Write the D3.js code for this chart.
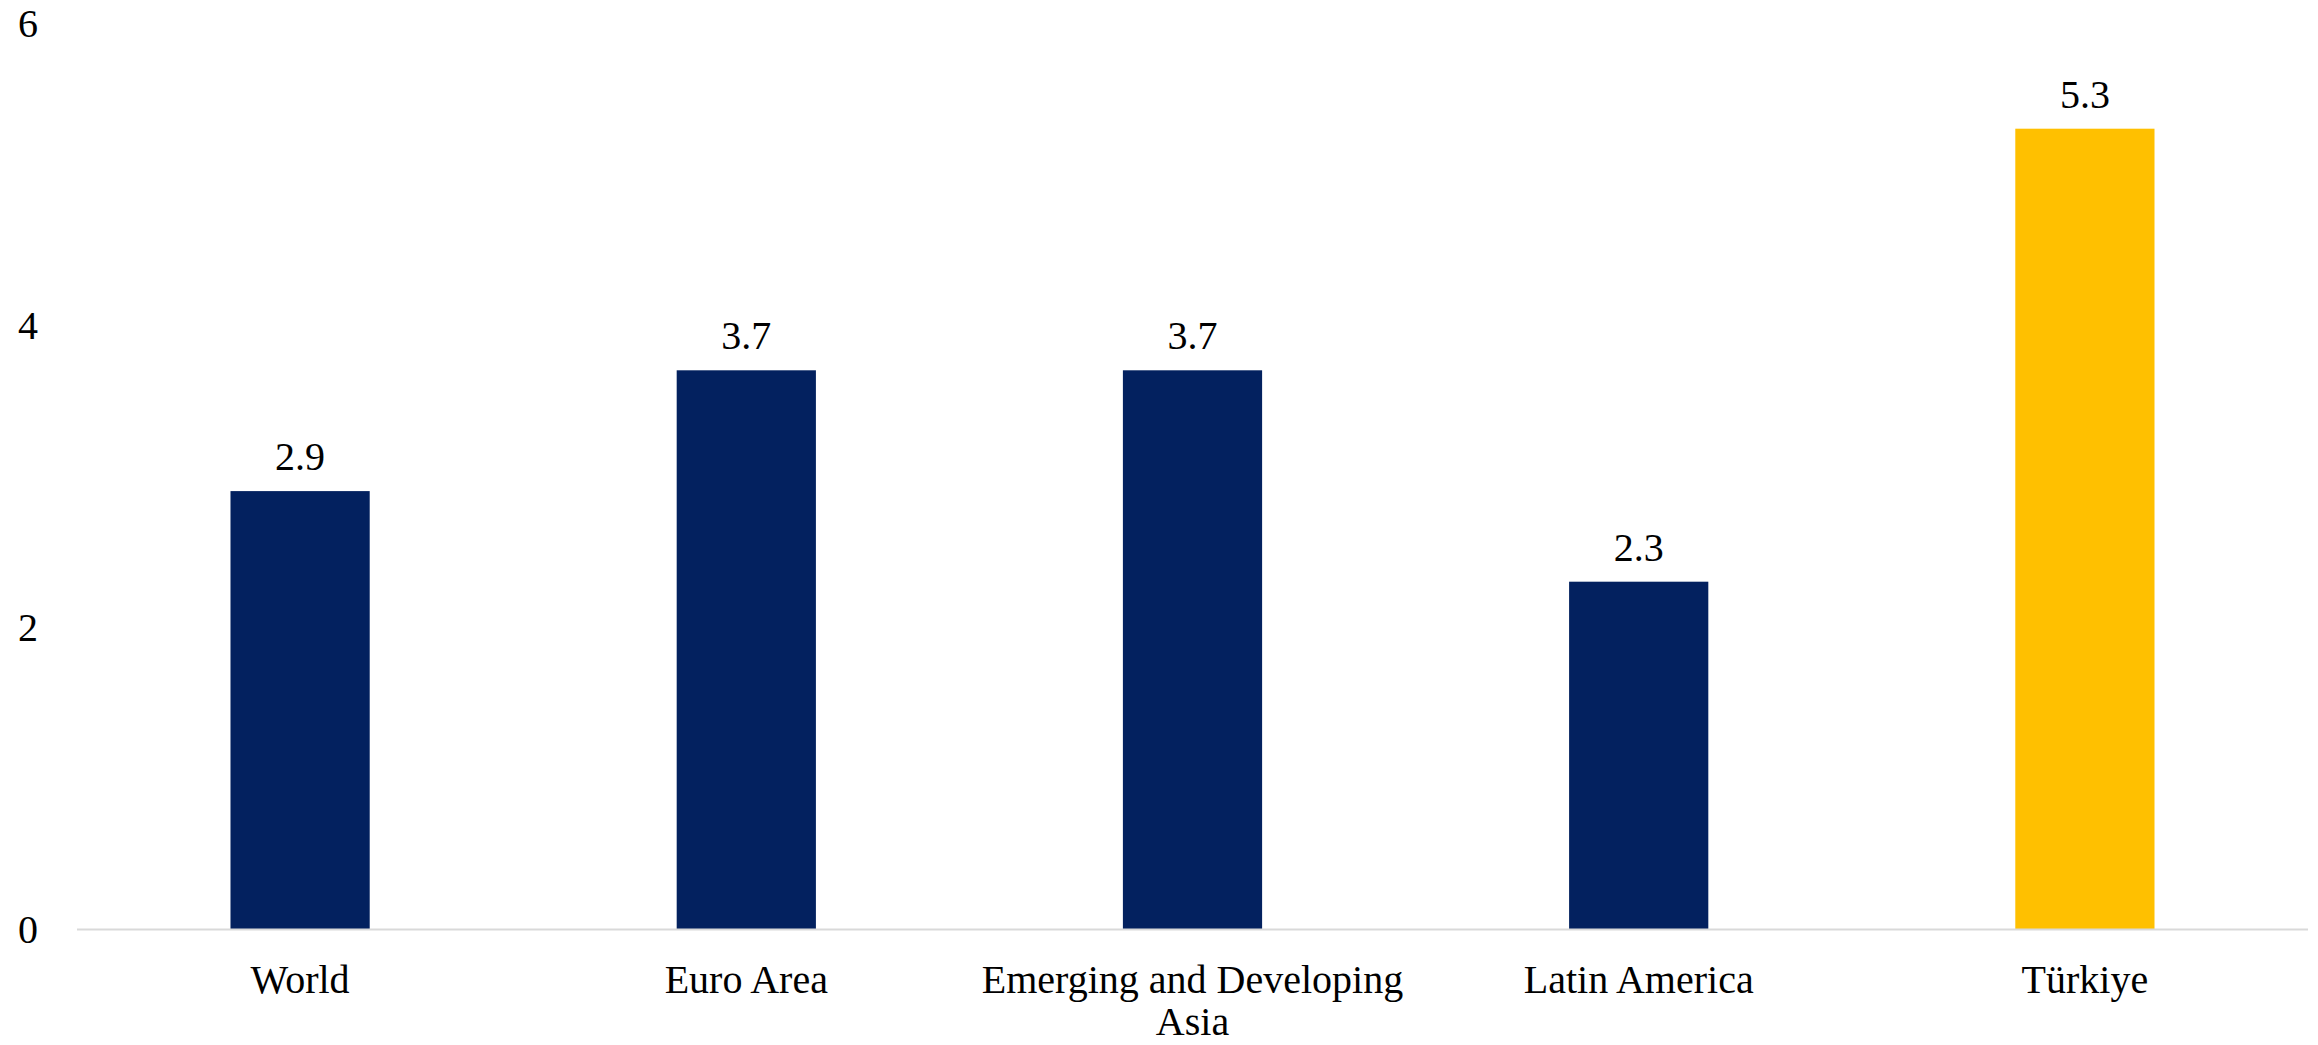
<!DOCTYPE html>
<html>
<head>
<meta charset="utf-8">
<script src="https://cdn.jsdelivr.net/npm/d3@7"></script>
<style>
  html, body { margin: 0; padding: 0; background: #fff; }
  svg text { font-family: "Liberation Serif", "Times New Roman", serif; fill: #000; }
</style>
</head>
<body>
<svg id="chart" width="2318" height="1045"></svg>
<script>
const categories = ["World", "Euro Area", "Emerging and Developing Asia", "Latin America", "Türkiye"];
const values = [2.9, 3.7, 3.7, 2.3, 5.3];
const barColors = ["#03215F", "#03215F", "#03215F", "#03215F", "#FFC000"];
const yTicks = [0, 2, 4, 6];
const labelLines = [["World"], ["Euro Area"], ["Emerging and Developing", "Asia"], ["Latin America"], ["Türkiye"]];

const svg = d3.select("#chart");
const mLeft = 77, mRight = 2308, mTop = 23, mBottom = 929;

const x = d3.scaleBand().domain(categories).range([mLeft, mRight]).paddingInner(0.688).paddingOuter(0.344);
const y = d3.scaleLinear().domain([0, 6]).range([mBottom, mTop]);

// bars
svg.selectAll("rect.bar").data(categories).enter().append("rect")
  .attr("class", "bar")
  .attr("x", d => x(d))
  .attr("width", x.bandwidth())
  .attr("y", (d, i) => y(values[i]))
  .attr("height", (d, i) => y(0) - y(values[i]))
  .attr("fill", (d, i) => barColors[i]);

// baseline
svg.append("line")
  .attr("x1", mLeft).attr("x2", mRight)
  .attr("y1", y(0) + 0.5).attr("y2", y(0) + 0.5)
  .attr("stroke", "#D9D9D9").attr("stroke-width", 2);

// y tick labels
svg.selectAll("text.ytick").data(yTicks).enter().append("text")
  .attr("class", "ytick")
  .attr("x", 38)
  .attr("y", d => y(d))
  .attr("dy", "0.35em")
  .attr("text-anchor", "end")
  .attr("font-size", 40)
  .text(d => d);

// value labels
svg.selectAll("text.val").data(categories).enter().append("text")
  .attr("class", "val")
  .attr("x", d => x(d) + x.bandwidth() / 2)
  .attr("y", (d, i) => y(values[i]) - 21)
  .attr("text-anchor", "middle")
  .attr("font-size", 40)
  .text((d, i) => values[i].toFixed(1));

// category labels
categories.forEach((c, i) => {
  const t = svg.append("text")
    .attr("x", x(c) + x.bandwidth() / 2)
    .attr("y", 993)
    .attr("text-anchor", "middle")
    .attr("font-size", 40);
  labelLines[i].forEach((ln, j) => {
    t.append("tspan")
      .attr("x", x(c) + x.bandwidth() / 2)
      .attr("y", 993 + j * 42)
      .text(ln);
  });
});
</script>
</body>
</html>
